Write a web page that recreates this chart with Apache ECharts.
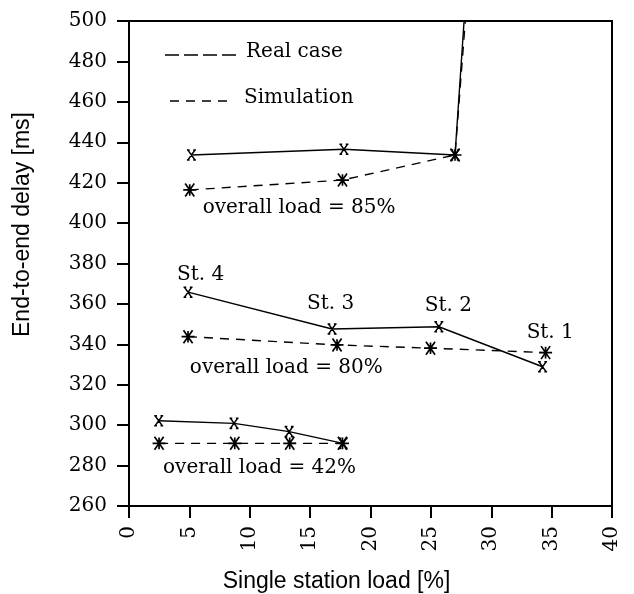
<!DOCTYPE html>
<html>
<head>
<meta charset="utf-8">
<script src="https://cdn.jsdelivr.net/npm/echarts@6/dist/echarts.min.js"></script>
<style>html,body{margin:0;padding:0;background:#fff}#c{width:634px;height:594px}</style>
</head>
<body>
<div id="c"></div>
<script>
// Single station load [%] (x) and end-to-end delay [ms] (y)
var real85 = [[5.17, 433.7], [17.8, 436.5], [27.0, 433.7], [27.75, 500]];
var sim85  = [[5.03, 416.4], [17.68, 421.3], [27.0, 433.7], [27.85, 500]];
var real80 = [[4.89, 365.8], [16.82, 347.6], [25.66, 348.7], [34.25, 328.9]];
var sim80  = [[4.89, 343.8], [17.23, 339.7], [24.97, 338.1], [34.5, 335.9]];
var real42 = [[2.46, 302.2], [8.7, 300.9], [13.26, 296.8], [17.73, 291.0]];
var sim42  = [[2.49, 291.0], [8.76, 291.0], [13.31, 291.0], [17.68, 291.0]];
var annotations = [
  [6.1, 407.5, 'overall load = 85%'],
  [5.04, 328.2, 'overall load = 80%'],
  [2.82, 278.7, 'overall load = 42%'],
  [3.98, 374.3, 'St. 4'],
  [14.75, 360.0, 'St. 3'],
  [24.5, 359.0, 'St. 2'],
  [32.93, 345.5, 'St. 1']
];
var xTicks = {min: 0, max: 40, interval: 5};
var yTicks = {min: 260, max: 500, interval: 20};

var SERIF = '"DejaVu Serif", serif';
var SANS = '"Liberation Sans", Arial, sans-serif';
var realSym = 'path://M1,0L9,10M9,0L1,10M0,0L3,0M7,0L10,0M0,10L3,10M7,10L10,10';
var simSym = 'path://M0,5L10,5M1.5,0.5L8.5,9.5M8.5,0.5L1.5,9.5M5,1L5,9';

function realSeries(d) {
  return {type: 'line', data: d, symbol: realSym, symbolSize: [9, 10], clip: true,
    lineStyle: {color: '#000', width: 1.4, type: 'solid'},
    itemStyle: {color: '#000', borderColor: '#000', borderWidth: 1.5},
    showAllSymbol: true, animation: false, z: 3};
}
function simSeries(d) {
  return {type: 'line', data: d, symbol: simSym, symbolSize: [13, 13], clip: true,
    lineStyle: {color: '#000', width: 1.4, type: [9, 7]},
    itemStyle: {color: '#000', borderColor: '#000', borderWidth: 1.7},
    showAllSymbol: true, animation: false, z: 3};
}
var chart = echarts.init(document.getElementById('c'));
var series = [realSeries(real85), simSeries(sim85), realSeries(real80), simSeries(sim80), realSeries(real42), simSeries(sim42)];
series[0].data = real85.map(function (p, i) { return i === 3 ? {value: p, symbol: 'none'} : p; });
series[1].data = sim85.map(function (p, i) { return i === 3 ? {value: p, symbol: 'none'} : p; });
series.push({
  type: 'scatter', symbolSize: 0, itemStyle: {color: '#000', opacity: 1}, animation: false, silent: true,
  data: annotations.map(function (a) { return {value: [a[0], a[1]], name: a[2]}; }),
  label: {show: true, position: 'inside', align: 'left', verticalAlign: 'middle',
    formatter: function (p) { return p.name; }, color: '#000', fontFamily: SERIF, fontSize: 20}
});

chart.setOption({
  animation: false,
  backgroundColor: '#fff',
  grid: {left: 129, right: 22, top: 21, bottom: 88, show: true, borderColor: '#000', borderWidth: 2,
    backgroundColor: 'transparent', containLabel: false, outerBoundsMode: 'none'},
  xAxis: {
    type: 'value', min: xTicks.min, max: xTicks.max, interval: xTicks.interval,
    name: 'Single station load [%]', nameLocation: 'middle', nameGap: 64,
    nameTextStyle: {fontFamily: SANS, fontSize: 23, color: '#000', padding: [0, 68, 0, 0]},
    axisLine: {show: true, lineStyle: {color: '#000', width: 2}},
    axisTick: {show: true, inside: false, length: 12, lineStyle: {color: '#000', width: 2}},
    axisLabel: {rotate: 90, margin: 20, color: '#000', fontFamily: SERIF, fontSize: 20},
    splitLine: {show: false}
  },
  yAxis: {
    type: 'value', min: yTicks.min, max: yTicks.max, interval: yTicks.interval,
    name: 'End-to-end delay [ms]', nameLocation: 'middle', nameGap: 95,
    nameTextStyle: {fontFamily: SANS, fontSize: 23, color: '#000', padding: [0, 0, 0, 78]},
    axisLine: {show: true, lineStyle: {color: '#000', width: 2}},
    axisTick: {show: true, inside: false, length: 12, lineStyle: {color: '#000', width: 2}},
    axisLabel: {margin: 22, color: '#000', fontFamily: SERIF, fontSize: 20},
    splitLine: {show: false}
  },
  graphic: [
    {type: 'line', shape: {x1: 165, y1: 55, x2: 238, y2: 55}, style: {stroke: '#000', lineWidth: 1.4, lineDash: [14, 5]}},
    {type: 'text', left: 246, top: 42, style: {text: 'Real case', fill: '#000', font: '20px ' + SERIF}},
    {type: 'line', shape: {x1: 170, y1: 101, x2: 233, y2: 101}, style: {stroke: '#000', lineWidth: 1.4, lineDash: [9, 7]}},
    {type: 'text', left: 244, top: 88, style: {text: 'Simulation', fill: '#000', font: '20px ' + SERIF}}
  ],
  series: series
});
</script>
</body>
</html>
